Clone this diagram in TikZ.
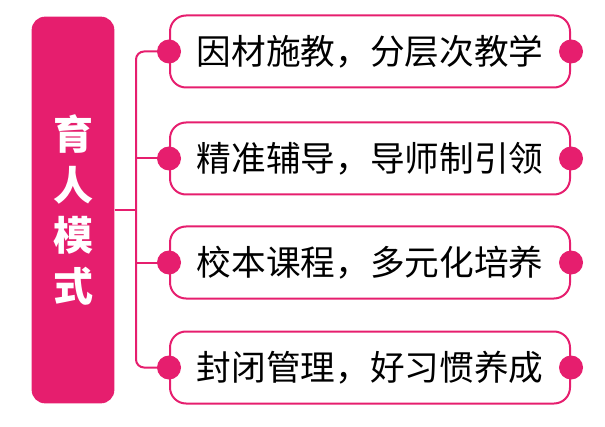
\documentclass[tikz,border=0pt]{standalone}
\usepackage{fontspec}
\setmainfont{Noto Sans CJK SC}
\usepackage{tikz}
\definecolor{rosepink}{RGB}{230,30,110}

\begin{document}
\begin{tikzpicture}[x=0.75pt,y=-0.75pt,
    itembox/.style={draw=rosepink,line width=1.5pt,rounded corners=12pt,
      minimum width=300pt,minimum height=54pt,anchor=west,
      font=\fontsize{26}{28}\selectfont,align=center},
    branch/.style={rosepink,line width=1.5pt,rounded corners=6pt},
    dot/.style={fill=rosepink,circle,inner sep=0pt,minimum size=18pt}]
    \useasboundingbox (0,0) rectangle (605,427);
    % Title column
    \node[fill=rosepink,rounded corners=10pt,minimum width=62pt,minimum height=290pt,
      text=white,font=\bfseries\fontsize{30}{38}\selectfont,align=center]
      (title) at (73,210) {育\\人\\模\\式};
    % Items
    \node[itembox] (i1) at (169,51.5) {因材施教，分层次教学};
    \node[itembox] (i2) at (169,158.5) {精准辅导，导师制引领};
    \node[itembox] (i3) at (169,262.5) {校本课程，多元化培养};
    \node[itembox] (i4) at (169,367.5) {封闭管理，好习惯养成};
    % Connectors
    \coordinate (hub) at (136,210);
    \draw[branch] (title.east |- hub) -- (hub);
    \draw[branch] (i1.west) -| (hub) |- (i4.west);
    \draw[branch] (hub |- i2.west) -- (i2.west);
    \draw[branch] (hub |- i3.west) -- (i3.west);
    % Dots
    \foreach \n in {i1,i2,i3,i4}{
      \node[dot] at (\n.west) {};
      \node[dot] at (\n.east) {};
    }
\end{tikzpicture}
\end{document}
